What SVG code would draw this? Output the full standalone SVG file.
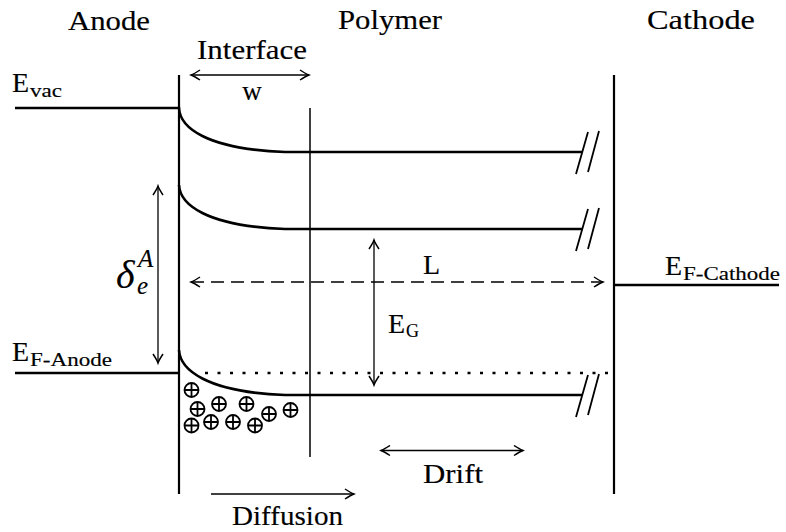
<svg xmlns="http://www.w3.org/2000/svg" width="786" height="532" viewBox="0 0 786 532">
<defs>
<style>
text{font-family:"Liberation Serif","Times New Roman",serif;fill:#000;stroke:#000;stroke-width:0.15}
.lbl{font-size:27px}
.big{font-size:28px}
.sub{font-size:18px}
.lvl{fill:none;stroke:#000;stroke-width:2.6}
.wall{fill:none;stroke:#000;stroke-width:2.2}
.thin{fill:none;stroke:#000;stroke-width:1.5}
.arr{fill:none;stroke:#000;stroke-width:1.3}
.brk{fill:none;stroke:#000;stroke-width:1.8}
</style>
<marker id="ah" viewBox="-10 -6 12 12" refX="0" refY="0" markerWidth="12" markerHeight="12" markerUnits="userSpaceOnUse" orient="auto-start-reverse">
<path d="M-9,-5 Q-3,-1 0,0 Q-3,1 -9,5" fill="none" stroke="#000" stroke-width="1.5"/>
</marker>
<g id="plus">
<circle cx="0" cy="0" r="7" fill="none" stroke="#000" stroke-width="1.8"/>
<path d="M-7,0H7M0,-7V7" stroke="#000" stroke-width="1.8"/>
</g>
</defs>
<rect width="786" height="532" fill="#fff"/>

<g id="titles">
<text class="lbl" x="68" y="30" textLength="82" lengthAdjust="spacingAndGlyphs">Anode</text>
<text class="lbl" x="338" y="29" textLength="104" lengthAdjust="spacingAndGlyphs">Polymer</text>
<text class="lbl" x="647" y="29" textLength="108" lengthAdjust="spacingAndGlyphs">Cathode</text>
</g>

<g id="walls">
<path class="wall" d="M179,75V494"/>
<path class="thin" d="M310,108V457"/>
<path class="wall" d="M614,75V494"/>
</g>

<g id="evac">
<path class="lvl" d="M15,108H179C180,127 205,149 285,152H582"/>
<path class="brk" d="M576,174L588,132M588,172L599,131"/>
<text class="big" x="12" y="92">E</text><text class="sub" x="30" y="97" textLength="32" lengthAdjust="spacingAndGlyphs">vac</text>
</g>

<g id="lumo">
<path class="lvl" d="M179,185C180,204 205,226 285,229H582"/>
<path class="brk" d="M576,251L588,209M588,249L599,208"/>
</g>

<g id="homo">
<path class="lvl" d="M179,350C180,369 205,392 285,395H582"/>
<path class="brk" d="M576,417L588,375M588,415L599,374"/>
</g>

<g id="ef-anode">
<path class="lvl" d="M15,373H179"/>
<path d="M205,373H614" fill="none" stroke="#000" stroke-width="2.6" stroke-dasharray="3 9.5"/>
<text class="big" x="12" y="361">E</text><text class="sub" x="30" y="366" textLength="82" lengthAdjust="spacingAndGlyphs">F-Anode</text>
</g>

<g id="ef-cathode">
<path class="lvl" d="M614,285H779"/>
<text class="big" x="665" y="275">E</text><text class="sub" x="683" y="280" textLength="97" lengthAdjust="spacingAndGlyphs">F-Cathode</text>
</g>

<g id="holes">
<use href="#plus" x="191.5" y="390"/>
<use href="#plus" x="197.5" y="409"/>
<use href="#plus" x="219" y="404"/>
<use href="#plus" x="246.5" y="404"/>
<use href="#plus" x="269" y="414"/>
<use href="#plus" x="290.5" y="410"/>
<use href="#plus" x="191.5" y="425.5"/>
<use href="#plus" x="211" y="422"/>
<use href="#plus" x="233" y="422"/>
<use href="#plus" x="255" y="425.5"/>
</g>

<g id="connectors">
<path class="arr" d="M191,75H309" marker-start="url(#ah)" marker-end="url(#ah)"/>
<path class="arr" d="M158,186V363" marker-start="url(#ah)" marker-end="url(#ah)"/>
<path class="arr" d="M374,240V385" marker-start="url(#ah)" marker-end="url(#ah)"/>
<path class="arr" d="M191,282H603" stroke-dasharray="13 7" marker-start="url(#ah)" marker-end="url(#ah)"/>
<path class="arr" d="M381,450.5H523" marker-start="url(#ah)" marker-end="url(#ah)"/>
<path class="arr" d="M211,494H354" marker-end="url(#ah)"/>
</g>

<g id="labels">
<text class="lbl" x="197" y="59" textLength="110" lengthAdjust="spacingAndGlyphs">Interface</text>
<text class="lbl" x="252" y="100" text-anchor="middle">w</text>
<text class="big" x="423" y="274">L</text>
<text class="big" x="388" y="333">E</text><text class="sub" x="406" y="337">G</text>
<text x="116" y="288" style="font-size:40px;font-style:italic;stroke-width:0.1">δ</text>
<text x="137" y="294" style="font-size:25px;font-style:italic;stroke-width:0.1">e</text>
<text x="138" y="267" style="font-size:25px;font-style:italic;stroke-width:0.1">A</text>
<text class="lbl" x="423" y="483" textLength="60" lengthAdjust="spacingAndGlyphs">Drift</text>
<text class="lbl" x="232" y="525" textLength="111" lengthAdjust="spacingAndGlyphs">Diffusion</text>
</g>
</svg>
